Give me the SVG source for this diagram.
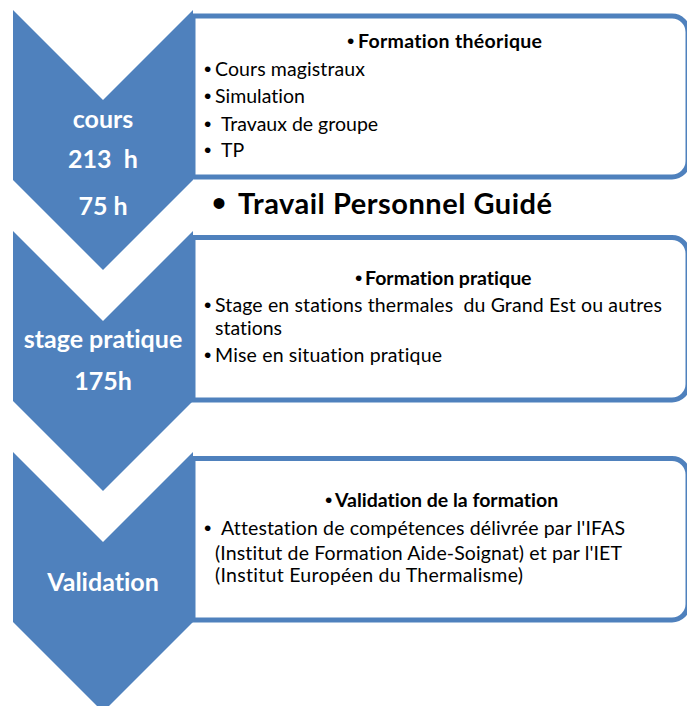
<svg xmlns="http://www.w3.org/2000/svg" width="687" height="706" viewBox="0 0 687 706">
<style>
.box{fill:#fff;stroke:#4F81BD;stroke-width:5}
.chev{fill:#4F81BD}
text{font-variant-ligatures:none;font-feature-settings:"liga" 0}
.lab{font-family:Lato,"Open Sans","Liberation Sans",sans-serif;font-weight:bold;font-size:25px;fill:#fff;text-anchor:middle}
.t{font-family:Lato,"Open Sans","Liberation Sans",sans-serif;font-size:19.5px;fill:#000}
.h{font-weight:bold}
.b{font-family:"Liberation Sans",sans-serif;font-weight:normal;font-size:21px}
.bb{font-family:"Liberation Sans",sans-serif;font-weight:normal;font-size:40px}
.big{font-family:Lato,"Open Sans","Liberation Sans",sans-serif;font-weight:bold;font-size:29px;fill:#000}
</style>
<rect width="687" height="706" fill="#fff"/>
<g id="box1">
<path class="box" d="M193,16 H672 A16,16 0 0 1 688,32 V161 A16,16 0 0 1 672,177 H193 Z"/>
<text class="t h"><tspan class="b" x="347" y="48">•</tspan><tspan x="358" y="48" textLength="184">Formation théorique</tspan></text>
<text class="t"><tspan class="b" x="204" y="76">•</tspan><tspan x="215" y="76" textLength="150">Cours magistraux</tspan></text>
<text class="t"><tspan class="b" x="204" y="103">•</tspan><tspan x="215" y="103">Simulation</tspan></text>
<text class="t"><tspan class="b" x="204" y="131">•</tspan><tspan x="221" y="131">Travaux de groupe</tspan></text>
<text class="t"><tspan class="b" x="204" y="157">•</tspan><tspan x="221" y="157">TP</tspan></text>
</g>
<g id="chevron1">
<path class="chev" d="M13,10 L103,100 L193,10 L193,180 L103,270 L13,180 Z"/>
<text class="lab" x="103" y="128">cours</text>
<text class="lab" x="103" y="168" xml:space="preserve">213  h</text>
<text class="lab" x="103" y="215">75 h</text>
</g>
<g id="tpg">
<text class="big"><tspan class="bb" x="212" y="217">•</tspan><tspan x="238" y="214" textLength="314">Travail Personnel Guidé</tspan></text>
</g>
<g id="box2">
<path class="box" d="M193,237.5 H672 A16,16 0 0 1 688,253.5 V384 A16,16 0 0 1 672,400 H193 Z"/>
<text class="t h"><tspan class="b" x="355" y="285">•</tspan><tspan x="365" y="285">Formation pratique</tspan></text>
<text class="t" xml:space="preserve"><tspan class="b" x="204" y="312">•</tspan><tspan x="215" y="312" textLength="447">Stage en stations thermales  du Grand Est ou autres</tspan></text>
<text class="t"><tspan x="215" y="335">stations</tspan></text>
<text class="t"><tspan class="b" x="204" y="362">•</tspan><tspan x="215" y="362" textLength="227">Mise en situation pratique</tspan></text>
</g>
<g id="chevron2">
<path class="chev" d="M13,231 L103,321 L193,231 L193,401 L103,491 L13,401 Z"/>
<text class="lab" x="103" y="348">stage pratique</text>
<text class="lab" x="103" y="390">175h</text>
</g>
<g id="box3">
<path class="box" d="M193,458.5 H672 A16,16 0 0 1 688,474.5 V604 A16,16 0 0 1 672,620 H193 Z"/>
<text class="t h"><tspan class="b" x="325" y="507">•</tspan><tspan x="335" y="507">Validation de la formation</tspan></text>
<text class="t"><tspan class="b" x="204" y="535">•</tspan><tspan x="221" y="535" textLength="404">Attestation de compétences délivrée par l'IFAS</tspan></text>
<text class="t"><tspan x="215" y="560" textLength="407">(Institut de Formation Aide-Soignat) et par l'IET</tspan></text>
<text class="t"><tspan x="215" y="582" textLength="308">(Institut Européen du Thermalisme)</tspan></text>
</g>
<g id="chevron3">
<path class="chev" d="M13,452 L103,542 L193,452 L193,622 L103,712 L13,622 Z"/>
<text class="lab" x="103" y="591">Validation</text>
</g>
<g id="connectors"/>
</svg>
